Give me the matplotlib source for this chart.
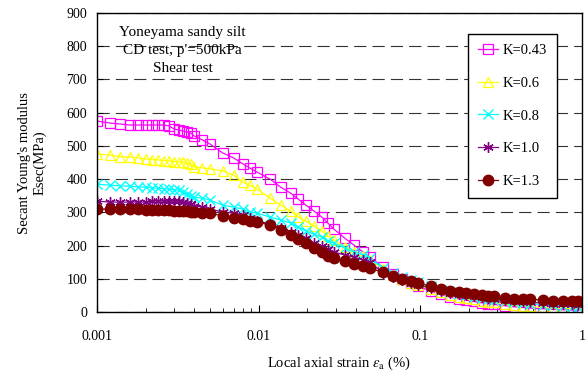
import numpy as np
import matplotlib
matplotlib.use("Agg")
import matplotlib.pyplot as plt

plt.rcParams['font.family'] = ['Liberation Serif', 'DejaVu Serif']
plt.rcParams['mathtext.fontset'] = 'stix'

# local axial strain (%) - sampling is nearly the same for every test
strain = [0.0010, 0.0012, 0.0014, 0.0016, 0.0018, 0.0020, 0.0022, 0.0024, 0.0026, 0.0028,
          0.0030, 0.0032, 0.0034, 0.0036, 0.0038, 0.0040, 0.0045, 0.0050, 0.0060, 0.0070,
          0.0080, 0.0088, 0.0098, 0.0118, 0.0137, 0.0158, 0.0176, 0.0196, 0.0220, 0.0246,
          0.0268, 0.0292, 0.0340, 0.0388, 0.0442, 0.0488, 0.0587, 0.0677, 0.0770, 0.0875,
          0.0966, 0.116, 0.134, 0.152, 0.173, 0.191, 0.214, 0.240, 0.262, 0.285,
          0.334, 0.379, 0.431, 0.476, 0.573, 0.661, 0.762, 0.866, 0.944]

# secant Young's modulus (MPa)
E_043 = [575, 569, 566, 563, 563, 563, 563, 563, 563, 560, 551, 548, 545, 542, 539, 530, 518, 506, 479, 464,
         446, 434, 421, 400, 376, 358, 340, 322, 304, 286, 268, 250, 223, 202, 181, 166,
         135, 115, 100, 88, 78, 63, 53, 45, 40, 36, 32, 28, 25, 23, 19, 16, 14, 12, 10, 8, 7, 6, 6]
E_06 = [476, 473, 467, 467, 464, 461, 459, 458, 456, 455, 453, 452, 452, 449, 446, 437, 434, 431, 425, 412,
        391, 382, 370, 343, 322, 304, 286, 274, 259, 244, 229, 217, 196, 181, 169, 157,
        130, 113, 100, 89, 82, 70, 60, 52, 46, 42, 38, 34, 31, 29, 24, 21, 19, 17, 14, 12, 11, 10, 10]
E_08 = [385, 382, 380, 379, 377, 376, 374, 373, 371, 370, 368, 367, 361, 356, 350, 346, 343, 337, 322, 316,
        310, 301, 298, 286, 277, 268, 256, 244, 235, 226, 214, 208, 193, 181, 172, 163,
        132, 118, 106, 97, 90, 78, 67, 60, 55, 50, 46, 42, 39, 37, 32, 29, 27, 25, 22, 20, 18, 16, 15]
E_10 = [334, 331, 331, 331, 331, 331, 334, 334, 334, 334, 334, 334, 331, 328, 325, 319, 316, 310, 301, 298,
        292, 283, 274, 265, 253, 241, 232, 223, 208, 199, 190, 181, 172, 166, 157, 151,
        118, 105, 96, 88, 82, 72, 63, 57, 53, 50, 47, 44, 41, 40, 35, 32, 31, 30, 27, 25, 24, 23, 22]
E_13 = [310, 310, 310, 310, 310, 307, 307, 307, 307, 307, 304, 304, 304, 304, 301, 301, 298, 298, 289, 283,
        280, 274, 271, 262, 247, 232, 220, 208, 193, 181, 169, 163, 154, 145, 139, 132,
        120, 108, 100, 93, 87, 78, 69, 63, 60, 57, 54, 51, 48, 48, 42, 39, 39, 39, 36, 33, 33, 33, 33]

fig = plt.figure(figsize=(5.87, 3.72), dpi=100)
ax = fig.add_axes([0.165, 0.161, 0.8265, 0.804])

ax.plot(strain, E_043, color='#FF00FF', lw=0.9, marker='s', ms=6.5, mfc='none', mec='#FF00FF', mew=0.9, label='K=0.43')
ax.plot(strain, E_06, color='#FFFF00', lw=0.9, marker='^', ms=7, mfc='none', mec='#FFFF00', mew=0.9, label='K=0.6')
ax.plot(strain, E_08, color='#00FFFF', lw=0.9, marker='x', ms=6.5, mew=1.0, label='K=0.8')
ax.plot(strain, E_10, color='#800080', lw=0.9, marker=(6, 2, 0), ms=7.5, mew=1.0, label='K=1.0')
ax.plot(strain, E_13, color='#800000', lw=0.9, marker='o', ms=7.5, label='K=1.3')

ax.set_xscale('log')
ax.set_xlim(0.001, 1)
ax.set_ylim(0, 900)
ax.set_xticks([0.001, 0.01, 0.1, 1], labels=['0.001', '0.01', '0.1', '1'])
ax.set_yticks(np.arange(0, 901, 100))
ax.tick_params(axis='x', which='major', direction='in', length=5, pad=13, labelsize=10)
ax.tick_params(axis='x', which='minor', direction='in', length=3)
ax.tick_params(axis='y', direction='in', length=4, pad=7, labelsize=10)
ax.yaxis.grid(True, linestyle=(0, (11, 5.5)), color='#333333', lw=0.8)
ax.set_axisbelow(True)
for sp in ax.spines.values():
    sp.set_linewidth(1.0)

ax.set_xlabel(r'Local axial strain $\it{\varepsilon}_{\rm a}$ (%)', fontsize=10.5, labelpad=8)
ax.set_ylabel("Secant Young's modulus\nEsec(MPa)", fontsize=10.5, labelpad=14)

ax.text(0.177, 0.957, "Yoneyama sandy silt\nCD test, p'=500kPa\nShear test", transform=ax.transAxes,
        ha='center', va='top', ma='center', fontsize=11, linespacing=1.5)

leg = ax.legend(loc='upper left', bbox_to_anchor=(0.765, 0.93), fontsize=10.5, labelspacing=1.33,
                handlelength=1.37, handletextpad=0.3, borderpad=0.7, fancybox=False, framealpha=1,
                edgecolor='black', borderaxespad=0)
leg.get_frame().set_linewidth(1.0)

fig.savefig('out.png', dpi=100)
